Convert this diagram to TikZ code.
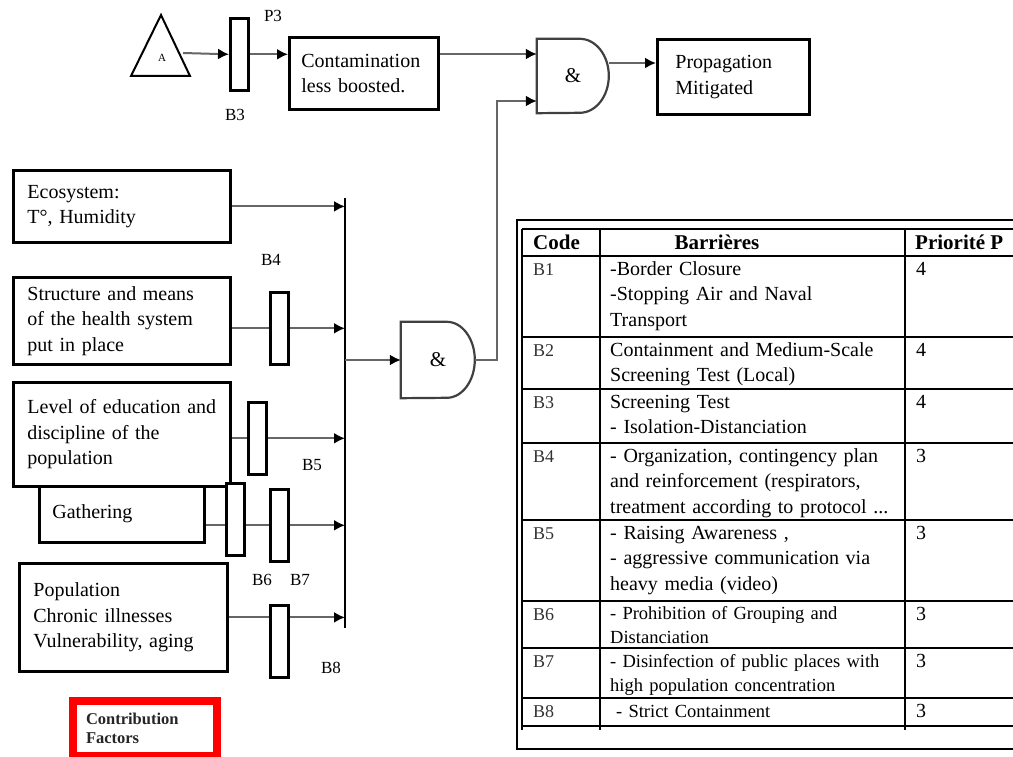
\documentclass[tikz,border=0pt]{standalone}
\usepackage{fontspec}
\setmainfont{Liberation Serif}
\usetikzlibrary{arrows.meta,calc,positioning}
\tikzset{pin/.style={draw=black!60, line width=2pt, -{Latex[length=11pt,width=11pt,black]}},
  wire/.style={draw=black!60, line width=2pt},
  blk/.style={draw, line width=2.8pt, anchor=north west, align=left, inner xsep=14pt, inner ysep=0pt,
    font=\fontsize{20}{25.5}\selectfont},
  bar/.style={draw, line width=2.6pt, fill=white, anchor=north west, minimum width=18, minimum height=72, inner sep=0pt},
  gate/.style={inner sep=0pt, font=\fontsize{21}{22}\selectfont},
  gline/.style={draw=black!75, line width=2.2pt},
  lbl/.style={inner sep=0pt, font=\fontsize{17}{19}\selectfont},
  tab/.style={line width=2.8pt},
  cell/.style={anchor=north west, inner sep=0pt, text width=295, align=left, font=\fontsize{20}{25.5}\selectfont},
  cellsm/.style={cell, font=\fontsize{18.5}{23.5}\selectfont},
  code/.style={anchor=base west, inner sep=0pt, text=black!80, font=\fontsize{18}{20}\selectfont},
  prio/.style={anchor=base west, inner sep=0pt, font=\fontsize{20}{22}\selectfont},
  head/.style={inner sep=0pt, font=\bfseries\fontsize{21}{23}\selectfont}}

\begin{document}
\begin{tikzpicture}[x=1pt, y=-1pt]
  \useasboundingbox (0,0) rectangle (1013,757);
  \clip (0,0) rectangle (1013,757);
  % top chain
  \draw[line width=2pt] (161,15) -- (190,76) -- (131,76) -- cycle;
  \node[inner sep=0pt, font=\fontsize{11}{12}\selectfont] (src) at (162,58) {A};
  \coordinate (srcR) at (183,53);
  \node[bar] (b3) at (229,17) {};
  \node[lbl] (p3) at (273,16) {P3};
  \node[lbl] (lb3) at (235,115) {B3};
  \node[blk, inner xsep=12, text width=125, minimum height=72] (cont) at (288,36) {Contamination\\less boosted.};
  \node[gate, minimum width=72, minimum height=74] (g1) at (573,76) {\&};
  \draw[gline] (g1.north west) -- ++(43,0) arc[start angle=90, end angle=-90, x radius=29pt, y radius=37pt]
    -- (g1.south west) -- cycle;
  \coordinate (g1a) at ($(g1.west)+(0,-22)$);
  \coordinate (g1b) at ($(g1.west)+(0,25)$);
  \coordinate (g1o) at ($(g1.east)+(0,-13)$);
  \node[blk, inner xsep=18, text width=116, minimum height=75] (prop) at (656,38) {Propagation\\Mitigated};
  \draw[pin] (srcR) -- (b3.west);
  \draw[pin] (b3.east) -- (b3.east -| cont.west);
  \draw[pin] (cont.east |- g1a) -- (g1a);
  \draw[pin] (g1o) -- (g1o -| prop.west);

  % contribution factors
  \node[blk, text width=189, minimum height=72] (eco) at (12,169) {Ecosystem:\\T°, Humidity};
  \node[blk, text width=189, minimum height=87] (struct) at (12,276) {Structure and means\\of the health system\\put in place};
  \node[blk, inner xsep=13, text width=139, minimum height=57] (gath) at (38,484) {Gathering};
  \node[blk, fill=white, text width=189, minimum height=104] (edu) at (12,381) {Level of education and\\discipline of the\\population};
  \node[blk, text width=180, minimum height=108] (pop) at (18,562) {Population\\Chronic illnesses\\Vulnerability, aging};
  \node[draw=red, line width=8pt, anchor=north west, align=left, inner xsep=13, inner ysep=0pt, text width=118,
    minimum height=55, text=black!85, font=\bfseries\fontsize{16.5}{19.5}\selectfont] (fac) at (69,697) {Contribution\\Factors};

  % barriers
  \node[bar] (b4) at (269,291) {};
  \node[bar] (b5) at (247,401) {};
  \node[bar] (b6) at (225,482) {};
  \node[bar] (b7) at (269,488) {};
  \node[bar] (b8) at (269,604) {};
  \node[lbl] (lb4) at (271,260) {B4};
  \node[lbl] (lb5) at (312,465) {B5};
  \node[lbl] (lb6) at (262,580) {B6};
  \node[lbl] (lb7) at (300,580) {B7};
  \node[lbl] (lb8) at (331,668) {B8};

  % collector and lower gate
  \coordinate (bus) at (345,198);
  \coordinate (busend) at (345,628);
  \draw[line width=2.8pt] (bus) -- (busend);
  \draw[pin] (eco.east) -- (eco.east -| bus);
  \draw[wire] (struct.east |- b4.west) -- (b4.west);
  \draw[pin] (b4.east) -- (b4.east -| bus);
  \draw[wire] (edu.east |- b5.west) -- (b5.west);
  \draw[pin] (b5.east) -- (b5.east -| bus);
  \draw[wire] (gath.east |- b7.west) -- (b6.west |- b7.west);
  \draw[wire] (b6.east |- b7.west) -- (b7.west);
  \draw[pin] (b7.east) -- (b7.east -| bus);
  \draw[wire] (pop.east) -- (b8.west |- pop.east);
  \draw[pin] (b8.east |- pop.east) -- (pop.east -| bus);
  \node[gate, minimum width=74, minimum height=76] (g2) at (438,360) {\&};
  \draw[gline] (g2.north west) -- ++(46,0) arc[start angle=90, end angle=-90, x radius=28pt, y radius=38pt]
    -- (g2.south west) -- cycle;
  \draw[pin] (bus |- g2.west) -- (g2.west);
  \draw[pin] (g2.east) -- ++(22,0) |- (g1b);

  % barrier table
  \draw[tab] (1030,220) -- (517,220) -- (517,749) -- (1030,749);
  \foreach \y in {229,256,337,389,443,520,601,648,698,726}
    \draw[tab] (522,\y) -- (1030,\y);
  \foreach \x in {522,600,905}
    \draw[tab] (\x,229) -- (\x,730);
  \node[head, anchor=base west] (hcode) at (533,250) {Code};
  \node[head, anchor=base] (hbar) at (717,250) {Barrières};
  \node[head, anchor=base west] (hprio) at (915,250) {Priorité P};
  \node[code] (c1) at (533,275) {B1};
  \node[code] (c2) at (533,356) {B2};
  \node[code] (c3) at (533,408) {B3};
  \node[code] (c4) at (533,462) {B4};
  \node[code] (c5) at (533,539) {B5};
  \node[code] (c6) at (533,620) {B6};
  \node[code] (c7) at (533,667) {B7};
  \node[code] (c8) at (533,717) {B8};
  \node[cell] (t1) at (610,257) {\strut-Border Closure\\-Stopping Air and Naval\\Transport};
  \node[cell] (t2) at (610,338) {\strut Containment and Medium-Scale\\Screening Test (Local)};
  \node[cell] (t3) at (610,390) {\strut Screening Test\\- Isolation-Distanciation};
  \node[cell] (t4) at (610,444) {\strut- Organization, contingency plan\\and reinforcement (respirators,\\treatment according to protocol ...};
  \node[cell] (t5) at (610,521) {\strut- Raising Awareness ,\\- aggressive communication via\\heavy media (video)};
  \node[cellsm] (t6) at (610,603) {\strut- Prohibition of Grouping and\\Distanciation};
  \node[cellsm] (t7) at (610,651) {\strut- Disinfection of public places with\\high population concentration};
  \node[cellsm] (t8) at (616,701) {\strut- Strict Containment};
  \foreach \n/\b/\v in {1/275/4, 2/356/4, 3/408/4, 4/462/3, 5/539/3, 6/620/3, 7/667/3, 8/717/3}
    \node[prio] (p\n) at (916,\b) {\v};
\end{tikzpicture}
\end{document}
